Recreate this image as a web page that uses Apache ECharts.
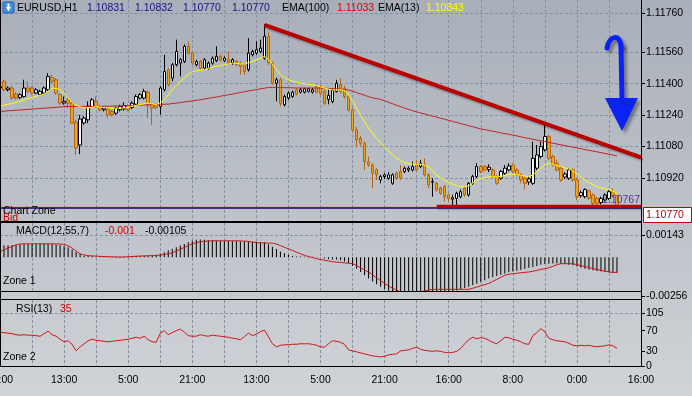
<!DOCTYPE html>
<html><head><meta charset="utf-8">
<script src="https://cdn.jsdelivr.net/npm/echarts/dist/echarts.min.js"></script>
<style>html,body{margin:0;padding:0;background:#c0c4ca}#c{width:692px;height:396px}</style>
</head><body><div id="c"></div>
<script>
// ---------- DATA (EURUSD H1) ----------
const opens=[
1.11378,1.11412,1.11369,1.11378,1.11347,1.11330,1.11335,1.11378,1.11378,1.11352,
1.11344,1.11352,1.11369,1.11432,1.11420,1.11344,1.11301,1.11318,1.11301,1.11205,
1.11088,1.11200,1.11216,1.11284,1.11310,1.11284,1.11267,1.11272,1.11259,1.11250,
1.11267,1.11272,1.11289,1.11279,1.11296,1.11327,1.11327,1.11357,1.11293,1.11293,
1.11284,1.11369,1.11471,1.11429,1.11496,1.11505,1.11513,1.11590,1.11556,1.11496,
1.11513,1.11479,1.11479,1.11505,1.11517,1.11539,1.11517,1.11522,1.11505,1.11513,
1.11505,1.11496,1.11471,1.11547,1.11556,1.11564,1.11530,1.11641,1.11505,1.11403,
1.11420,1.11293,1.11327,1.11335,1.11369,1.11357,1.11357,1.11361,1.11357,1.11386,
1.11385,1.11360,1.11320,1.11309,1.11360,1.11394,1.11377,1.11334,1.11266,1.11165,
1.11122,1.11097,1.11003,1.10986,1.10961,1.10910,1.10927,1.10919,1.10893,1.10944,
1.10953,1.10953,1.10961,1.10961,1.10986,1.10978,1.10986,1.10936,1.10898,1.10893,
1.10868,1.10876,1.10834,1.10812,1.10816,1.10825,1.10868,1.10834,1.10893,1.10927,
1.10978,1.10978,1.10963,1.10961,1.10927,1.10919,1.10944,1.10961,1.10986,1.10961,
1.10936,1.10919,1.10900,1.10893,1.10970,1.11029,1.11063,1.11131,1.11029,1.10995,
1.10970,1.10925,1.10919,1.10961,1.10910,1.10830,1.10825,1.10855,1.10834,1.10816,
1.10795,1.10808,1.10816,1.10850,1.10831];
const highs=[
1.11392,1.11420,1.11386,1.11390,1.11357,1.11352,1.11420,1.11412,1.11386,1.11378,
1.11369,1.11386,1.11454,1.11446,1.11429,1.11352,1.11335,1.11327,1.11310,1.11215,
1.11241,1.11235,1.11310,1.11327,1.11335,1.11293,1.11284,1.11280,1.11267,1.11284,
1.11293,1.11305,1.11295,1.11310,1.11345,1.11352,1.11374,1.11365,1.11300,1.11300,
1.11386,1.11547,1.11480,1.11505,1.11624,1.11530,1.11600,1.11615,1.11564,1.11522,
1.11522,1.11530,1.11513,1.11539,1.11590,1.11547,1.11539,1.11564,1.11530,1.11522,
1.11513,1.11505,1.11632,1.11573,1.11615,1.11624,1.11703,1.11660,1.11513,1.11430,
1.11430,1.11344,1.11360,1.11365,1.11378,1.11378,1.11380,1.11380,1.11378,1.11395,
1.11395,1.11370,1.11370,1.11375,1.11420,1.11428,1.11390,1.11342,1.11275,1.11180,
1.11135,1.11105,1.11029,1.10995,1.10970,1.10936,1.10944,1.10950,1.10944,1.10955,
1.10986,1.10978,1.10980,1.11003,1.11012,1.11012,1.11020,1.10944,1.10919,1.10900,
1.10876,1.10885,1.10842,1.10835,1.10850,1.10861,1.10876,1.10900,1.10936,1.10995,
1.10986,1.10986,1.10990,1.10970,1.10936,1.10961,1.10986,1.10995,1.10995,1.10970,
1.10944,1.10927,1.10927,1.11105,1.11088,1.11105,1.11190,1.11140,1.11040,1.11012,
1.10978,1.10950,1.10970,1.10970,1.10919,1.10855,1.10868,1.10861,1.10842,1.10825,
1.10825,1.10842,1.10861,1.10868,1.10832];
const lows=[
1.11370,1.11361,1.11361,1.11318,1.11318,1.11322,1.11330,1.11352,1.11344,1.11347,
1.11340,1.11347,1.11361,1.11403,1.11344,1.11293,1.11293,1.11276,1.11195,1.11037,
1.11042,1.11190,1.11199,1.11276,1.11276,1.11259,1.11259,1.11225,1.11233,1.11242,
1.11259,1.11262,1.11259,1.11270,1.11290,1.11320,1.11320,1.11225,1.11191,1.11270,
1.11242,1.11360,1.11386,1.11412,1.11488,1.11437,1.11505,1.11547,1.11496,1.11488,
1.11471,1.11471,1.11471,1.11496,1.11510,1.11513,1.11510,1.11496,1.11496,1.11488,
1.11446,1.11446,1.11462,1.11539,1.11547,1.11556,1.11522,1.11496,1.11395,1.11310,
1.11284,1.11284,1.11318,1.11327,1.11340,1.11350,1.11350,1.11355,1.11350,1.11350,
1.11340,1.11290,1.11295,1.11300,1.11355,1.11350,1.11325,1.11258,1.11155,1.11080,
1.11085,1.10961,1.10975,1.10868,1.10910,1.10893,1.10915,1.10910,1.10885,1.10910,
1.10910,1.10944,1.10950,1.10953,1.10953,1.10970,1.10927,1.10868,1.10825,1.10850,
1.10835,1.10800,1.10800,1.10783,1.10783,1.10816,1.10825,1.10825,1.10885,1.10919,
1.10944,1.10953,1.10950,1.10919,1.10885,1.10910,1.10936,1.10953,1.10944,1.10927,
1.10893,1.10861,1.10885,1.10885,1.10960,1.11020,1.11055,1.11010,1.10978,1.10953,
1.10900,1.10915,1.10910,1.10900,1.10808,1.10820,1.10816,1.10808,1.10774,1.10774,
1.10785,1.10800,1.10808,1.10820,1.10770];
const closes=[
1.11384,1.11369,1.11378,1.11327,1.11327,1.11344,1.11378,1.11361,1.11352,1.11369,
1.11361,1.11378,1.11437,1.11412,1.11352,1.11301,1.11310,1.11301,1.11199,1.11073,
1.11220,1.11225,1.11286,1.11318,1.11284,1.11267,1.11276,1.11242,1.11242,1.11276,
1.11284,1.11289,1.11267,1.11301,1.11335,1.11344,1.11361,1.11293,1.11276,1.11279,
1.11378,1.11462,1.11395,1.11496,1.11564,1.11522,1.11590,1.11556,1.11505,1.11513,
1.11479,1.11522,1.11505,1.11530,1.11539,1.11522,1.11530,1.11505,1.11522,1.11496,
1.11488,1.11462,1.11556,1.11564,1.11573,1.11581,1.11641,1.11505,1.11403,1.11420,
1.11301,1.11335,1.11352,1.11357,1.11347,1.11369,1.11374,1.11374,1.11369,1.11357,
1.11351,1.11300,1.11340,1.11368,1.11402,1.11360,1.11334,1.11266,1.11165,1.11114,
1.11097,1.11003,1.10986,1.10944,1.10936,1.10927,1.10936,1.10936,1.10936,1.10919,
1.10919,1.10970,1.10970,1.10978,1.10961,1.10995,1.10936,1.10885,1.10902,1.10861,
1.10842,1.10825,1.10816,1.10820,1.10842,1.10850,1.10834,1.10893,1.10927,1.10978,
1.10953,1.10961,1.10975,1.10927,1.10893,1.10953,1.10970,1.10981,1.10953,1.10936,
1.10910,1.10893,1.10915,1.11020,1.11037,1.11080,1.11131,1.11020,1.10986,1.10961,
1.10910,1.10940,1.10961,1.10910,1.10825,1.10845,1.10861,1.10816,1.10791,1.10791,
1.10816,1.10834,1.10850,1.10831,1.10770];
const ema13=[
1.11284,1.11290,1.11295,1.11300,1.11305,1.11310,1.11317,1.11324,1.11330,1.11336,
1.11341,1.11347,1.11362,1.11378,1.11376,1.11369,1.11350,1.11327,1.11305,1.11289,
1.11282,1.11278,1.11276,1.11280,1.11284,1.11281,1.11278,1.11276,1.11275,1.11275,
1.11276,1.11276,1.11280,1.11285,1.11289,1.11294,1.11298,1.11301,1.11297,1.11293,
1.11303,1.11318,1.11343,1.11369,1.11392,1.11410,1.11429,1.11447,1.11462,1.11466,
1.11468,1.11471,1.11477,1.11483,1.11488,1.11492,1.11496,1.11500,1.11505,1.11503,
1.11501,1.11500,1.11507,1.11513,1.11521,1.11530,1.11539,1.11525,1.11500,1.11472,
1.11446,1.11432,1.11420,1.11413,1.11408,1.11403,1.11400,1.11397,1.11395,1.11390,
1.11384,1.11378,1.11372,1.11368,1.11368,1.11369,1.11366,1.11343,1.11310,1.11275,
1.11240,1.11205,1.11175,1.11148,1.11122,1.11099,1.11078,1.11058,1.11038,1.11020,
1.11008,1.10999,1.10993,1.10991,1.10990,1.10991,1.10985,1.10975,1.10955,1.10935,
1.10920,1.10908,1.10898,1.10889,1.10881,1.10876,1.10876,1.10880,1.10895,1.10910,
1.10917,1.10922,1.10925,1.10926,1.10926,1.10927,1.10933,1.10939,1.10939,1.10937,
1.10934,1.10930,1.10927,1.10935,1.10952,1.10970,1.10986,1.10995,1.10990,1.10984,
1.10978,1.10972,1.10965,1.10958,1.10940,1.10924,1.10910,1.10897,1.10886,1.10876,
1.10870,1.10865,1.10860,1.10852,1.10843];
const ema100=[
1.11259,1.11260,1.11262,1.11263,1.11265,1.11266,1.11268,1.11269,1.11271,1.11272,
1.11274,1.11275,1.11277,1.11278,1.11280,1.11281,1.11283,1.11284,1.11284,1.11284,
1.11284,1.11284,1.11284,1.11284,1.11284,1.11284,1.11285,1.11285,1.11286,1.11287,
1.11287,1.11288,1.11288,1.11289,1.11290,1.11291,1.11291,1.11292,1.11293,1.11293,
1.11294,1.11295,1.11296,1.11299,1.11301,1.11304,1.11307,1.11310,1.11312,1.11315,
1.11318,1.11322,1.11325,1.11329,1.11332,1.11336,1.11340,1.11343,1.11347,1.11351,
1.11355,1.11359,1.11363,1.11366,1.11370,1.11374,1.11377,1.11381,1.11381,1.11380,
1.11380,1.11380,1.11379,1.11379,1.11378,1.11378,1.11378,1.11378,1.11378,1.11378,
1.11378,1.11377,1.11376,1.11375,1.11374,1.11372,1.11370,1.11368,1.11362,1.11355,
1.11348,1.11341,1.11334,1.11328,1.11324,1.11320,1.11313,1.11305,1.11298,1.11290,
1.11283,1.11276,1.11269,1.11262,1.11257,1.11251,1.11246,1.11240,1.11235,1.11230,
1.11224,1.11219,1.11213,1.11208,1.11203,1.11197,1.11192,1.11186,1.11181,1.11175,
1.11170,1.11166,1.11162,1.11158,1.11154,1.11150,1.11146,1.11142,1.11138,1.11134,
1.11130,1.11125,1.11121,1.11117,1.11113,1.11109,1.11105,1.11101,1.11097,1.11093,
1.11089,1.11085,1.11081,1.11077,1.11073,1.11069,1.11065,1.11061,1.11057,1.11053,
1.11049,1.11045,1.11041,1.11037,1.11033];
const macdHist=[
0.00076,0.00078,0.00079,0.00080,0.00082,0.00084,0.00085,0.00086,0.00087,0.00087,
0.00088,0.00088,0.00087,0.00086,0.00083,0.00080,0.00073,0.00065,0.00050,0.00033,
0.00020,0.00011,0.00008,0.00006,0.00005,0.00004,0.00004,0.00003,0.00003,0.00004,
0.00004,0.00005,0.00006,0.00007,0.00008,0.00010,0.00011,0.00012,0.00013,0.00015,
0.00022,0.00033,0.00045,0.00055,0.00065,0.00076,0.00087,0.00098,0.00108,0.00115,
0.00116,0.00115,0.00112,0.00110,0.00109,0.00108,0.00107,0.00106,0.00106,0.00105,
0.00104,0.00103,0.00103,0.00102,0.00101,0.00100,0.00098,0.00085,0.00068,0.00054,
0.00038,0.00025,0.00015,0.00008,0.00005,0.00004,0.00003,0.00003,0.00002,0.00001,
-0.00002,-0.00008,-0.00012,-0.00015,-0.00016,-0.00020,-0.00028,-0.00040,-0.00058,-0.00076,
-0.00098,-0.00120,-0.00141,-0.00160,-0.00178,-0.00195,-0.00210,-0.00222,-0.00230,-0.00234,
-0.00236,-0.00238,-0.00238,-0.00237,-0.00236,-0.00234,-0.00234,-0.00235,-0.00236,-0.00236,
-0.00235,-0.00234,-0.00232,-0.00228,-0.00220,-0.00212,-0.00203,-0.00195,-0.00185,-0.00175,
-0.00165,-0.00152,-0.00141,-0.00132,-0.00124,-0.00116,-0.00108,-0.00100,-0.00095,-0.00090,
-0.00084,-0.00078,-0.00070,-0.00065,-0.00058,-0.00050,-0.00045,-0.00043,-0.00042,-0.00042,
-0.00043,-0.00045,-0.00050,-0.00054,-0.00062,-0.00070,-0.00076,-0.00081,-0.00087,-0.00091,
-0.00095,-0.00098,-0.00101,-0.00103,-0.00105];
const macdSignal=[
0.00037,0.00048,0.00060,0.00070,0.00080,0.00087,0.00088,0.00088,0.00088,0.00088,
0.00088,0.00088,0.00088,0.00088,0.00087,0.00087,0.00084,0.00075,0.00060,0.00040,
0.00022,0.00015,0.00010,0.00008,0.00007,0.00005,0.00004,0.00003,0.00002,0.00001,
0.00000,0.00001,0.00002,0.00004,0.00006,0.00007,0.00008,0.00009,0.00010,0.00011,
0.00014,0.00018,0.00023,0.00028,0.00040,0.00052,0.00064,0.00076,0.00088,0.00096,
0.00101,0.00104,0.00107,0.00108,0.00108,0.00108,0.00108,0.00108,0.00108,0.00108,
0.00107,0.00106,0.00104,0.00100,0.00096,0.00094,0.00093,0.00093,0.00092,0.00086,
0.00076,0.00065,0.00055,0.00044,0.00033,0.00022,0.00012,0.00004,-0.00003,-0.00010,
-0.00015,-0.00020,-0.00025,-0.00030,-0.00033,-0.00035,-0.00038,-0.00040,-0.00043,-0.00055,
-0.00070,-0.00085,-0.00098,-0.00117,-0.00136,-0.00155,-0.00173,-0.00190,-0.00205,-0.00218,
-0.00228,-0.00230,-0.00232,-0.00232,-0.00232,-0.00228,-0.00222,-0.00216,-0.00212,-0.00212,
-0.00212,-0.00212,-0.00212,-0.00212,-0.00212,-0.00212,-0.00212,-0.00212,-0.00205,-0.00197,
-0.00189,-0.00181,-0.00173,-0.00160,-0.00146,-0.00133,-0.00119,-0.00113,-0.00110,-0.00106,
-0.00103,-0.00100,-0.00098,-0.00093,-0.00087,-0.00081,-0.00076,-0.00070,-0.00060,-0.00050,
-0.00043,-0.00043,-0.00043,-0.00043,-0.00050,-0.00056,-0.00062,-0.00068,-0.00076,-0.00081,
-0.00087,-0.00092,-0.00097,-0.00101,-0.00100];
const rsi=[
67,66,65,64,62,61,62,61,61,60,
59,64,69,62,59,53,48,50,43,30,
38,44,50,53,51,50,49,48,49,50,
51,52,53,55,57,55,59,52,48,47,
65,70,62,66,70,73,67,60,59,59,
62,60,59,61,60,59,58,57,55,54,
52,58,65,60,63,68,71,58,44,38,
41,42,42,43,43,44,44,44,43,41,
38,37,44,50,49,47,43,32,30,28,
26,24,22,20,19,18,19,22,23,24,
30,31,32,35,37,33,31,30,29,30,
29,27,26,27,29,35,44,52,57,54,
56,55,51,47,44,50,57,56,53,51,
48,44,43,60,66,74,68,55,52,50,
49,48,45,41,40,41,40,41,39,38,
39,40,42,40,35];
const timeLabels=['21:00','13:00','5:00','21:00','13:00','5:00','21:00','16:00','8:00','0:00','16:00'];
const priceTicks=[1.10920,1.11080,1.11240,1.11400,1.11560,1.11760];
const macdTicks=[-0.00256,0.00143];
const rsiTicks=[0,30,70,105];
const rsiLevel=105;
const trendLine=[[66,1.11699],[160,1.11025]];
const supportLine=[[109,1.10776],[160,1.10776]];
const bidPrice=1.10770;
const levelPrice=1.10767;

// ---------- CHART ----------
const FONT='Liberation Sans';
const cats=Array.from({length:161},(_,i)=>String(i));
const candleData=opens.map((o,i)=>[o,closes[i],lows[i],highs[i]]);
const gridLine={color:'#8591a4',width:1,type:[3,2]};
const axisFont={color:'#000',fontSize:10.5,fontFamily:FONT};
function txt(x,y,text,fill,align){
  return {type:'text',x:x,y:y,z:100,style:{text:text,fill:fill,fontSize:10.5,fontFamily:FONT,verticalAlign:'middle',align:align||'left'}};
}
function hline(y,x1,x2,w,c,z){return {type:'line',z:z||95,shape:{x1:x1,y1:y,x2:x2,y2:y},style:{stroke:c||'#000',lineWidth:w||1}};}
const chart=echarts.init(document.getElementById('c'),null,{renderer:'canvas'});
const yBase=(g,min,max,ticks,fmt,split)=>({type:'value',gridIndex:g,position:'right',min:min,max:max,
  axisLine:{show:true,lineStyle:{color:'#000'}},
  axisTick:{show:true,length:4,inside:false,customValues:ticks,lineStyle:{color:'#000'}},
  axisLabel:Object.assign({customValues:ticks,formatter:fmt,margin:5},axisFont),
  splitLine:{show:split,lineStyle:gridLine}});
const arrowShadow={shadowColor:'rgba(0,0,0,0.35)',shadowBlur:3,shadowOffsetX:3,shadowOffsetY:3};
const levelLine=(p,c,w)=>({type:'line',xAxisIndex:0,yAxisIndex:0,data:[[0,p],[160,p]],symbol:'none',silent:true,lineStyle:{color:c,width:w}});
chart.setOption({
  animation:false,
  backgroundColor:'transparent',
  grid:[
    {left:0,right:51,top:0,height:221,outerBoundsMode:'none',containLabel:false},
    {left:0,right:51,top:223,height:73,outerBoundsMode:'none',containLabel:false},
    {left:0,right:51,top:300,height:66,outerBoundsMode:'none',containLabel:false}
  ],
  xAxis:[0,1,2].map(g=>({type:'category',gridIndex:g,data:cats,boundaryGap:false,
    axisLine:{show:g===2,lineStyle:{color:'#000'}},axisTick:{show:false},
    axisLabel:g===2?Object.assign({show:true,interval:(i)=>i%16===0,formatter:(v,i)=>timeLabels[i/16],margin:9},axisFont):{show:false},
    splitLine:{show:true,interval:(i)=>i%8===0,lineStyle:gridLine}})),
  yAxis:[
    yBase(0,1.10701,1.11826,priceTicks,v=>v.toFixed(5),true),
    yBase(1,-0.00256,0.00225,macdTicks,v=>v.toFixed(5),true),
    yBase(2,0,130.7,rsiTicks,v=>String(v),false)
  ],
  series:[
    levelLine(levelPrice,'#4b2a96',2),
    levelLine(bidPrice,'#c00000',1),
    {type:'candlestick',xAxisIndex:0,yAxisIndex:0,data:candleData,barWidth:3,
     itemStyle:{color:'#f6f9fc',color0:'#eba516',borderColor:'#000',borderColor0:'#b5621a',borderWidth:1}},
    {type:'line',name:'EMA(100)',xAxisIndex:0,yAxisIndex:0,data:ema100,symbol:'none',lineStyle:{color:'#c82020',width:1}},
    {type:'line',name:'EMA(13)',xAxisIndex:0,yAxisIndex:0,data:ema13,symbol:'none',lineStyle:{color:'#ffff00',width:1}},
    {type:'line',xAxisIndex:0,yAxisIndex:0,data:trendLine,symbol:'none',
     lineStyle:{color:'#bb0000',width:4,shadowColor:'rgba(0,0,0,0.3)',shadowBlur:2,shadowOffsetX:2,shadowOffsetY:2}},
    {type:'line',xAxisIndex:0,yAxisIndex:0,data:supportLine,symbol:'none',
     lineStyle:{color:'#bb0000',width:3,shadowColor:'rgba(0,0,0,0.25)',shadowBlur:2,shadowOffsetX:1,shadowOffsetY:2}},
    {type:'bar',xAxisIndex:1,yAxisIndex:1,data:macdHist,barWidth:1,itemStyle:{color:'#000'}},
    {type:'line',xAxisIndex:1,yAxisIndex:1,data:macdSignal,symbol:'none',lineStyle:{color:'#d01414',width:1}},
    {type:'line',xAxisIndex:2,yAxisIndex:2,data:rsi,symbol:'none',lineStyle:{color:'#d01414',width:1},
     markLine:{silent:true,symbol:'none',label:{show:false},data:[{yAxis:rsiLevel}],lineStyle:gridLine}}
  ],
  graphic:{elements:[
    {type:'rect',z:-100,shape:{x:0,y:0,width:692,height:396},
     style:{fill:{type:'linear',x:0,y:0,x2:0,y2:1,colorStops:[{offset:0,color:'#a9afb9'},{offset:1,color:'#d0d3d7'}]}}},
    {type:'rect',z:90,shape:{x:1,y:292,width:640,height:7},style:{fill:'#c6c9ce'}},
    txt(3,211,'Chart Zone','#000'),
    txt(3,218,'Bid','#d00000'),
    {type:'rect',z:95,shape:{x:0,y:221,width:642,height:2},style:{fill:'#000'}},
    hline(291.5,0,642,1),
    hline(299.5,0,642,1),
    {type:'line',z:95,shape:{x1:0.5,y1:0,x2:0.5,y2:367},style:{stroke:'#000',lineWidth:1}},
    {type:'line',z:95,shape:{x1:641.5,y1:0,x2:641.5,y2:367},style:{stroke:'#000',lineWidth:1}},
    {type:'rect',z:100,shape:{x:3,y:2,width:11,height:11,r:1},style:{fill:'#3f8ee0',stroke:'#1d5fb0',lineWidth:1}},
    {type:'polygon',z:101,shape:{points:[[6,7],[11,7],[8.5,11.5]]},style:{fill:'#fff'}},
    {type:'rect',z:101,shape:{x:7.5,y:3.5,width:2,height:4},style:{fill:'#fff'}},
    txt(17,8,'EURUSD,H1','#000'),
    txt(87,8,'1.10831','#141480'),
    txt(135,8,'1.10832','#141480'),
    txt(183,8,'1.10770','#141480'),
    txt(232,8,'1.10770','#141480'),
    txt(282,8,'EMA(100)','#000'),
    txt(337,8,'1.11033','#d80000'),
    txt(378,8,'EMA(13)','#000'),
    txt(426,8,'1.10843','#ffff00'),
    txt(640,200,'1.10767','#5a2ca0','right'),
    txt(16,231,'MACD(12,55,7)','#000'),
    txt(105,231,'-0.001','#d00000'),
    txt(145,231,'-0.00105','#000'),
    txt(3,281,'Zone 1','#000'),
    txt(16,309,'RSI(13)','#000'),
    txt(60,309,'35','#d00000'),
    txt(3,357,'Zone 2','#000'),
    {type:'rect',z:100,shape:{x:643.5,y:207.5,width:48,height:15},style:{fill:'#fff',stroke:'#c00000',lineWidth:1}},
    txt(646,215,'1.10770','#c00000'),
    {type:'bezierCurve',z:100,shape:{x1:607,y1:48,cpx1:609,cpy1:36,cpx2:620,cpy2:33,x2:621,y2:46},
     style:Object.assign({fill:null,stroke:'#0b22f5',lineWidth:5,lineCap:'round'},arrowShadow)},
    {type:'line',z:100,shape:{x1:621,y1:46,x2:622,y2:100},
     style:Object.assign({stroke:'#0b22f5',lineWidth:5,lineCap:'round'},arrowShadow)},
    {type:'polygon',z:100,shape:{points:[[605,98],[638,98],[622,131]]},
     style:Object.assign({fill:'#0b22f5'},arrowShadow)}
  ]}
});
</script></body></html>
